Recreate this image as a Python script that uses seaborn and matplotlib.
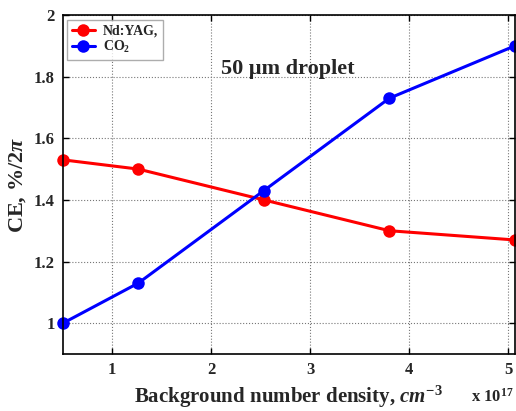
import matplotlib
matplotlib.use("Agg")
import matplotlib.pyplot as plt
import seaborn as sns
import pandas as pd

density = [0.507, 1.267, 2.533, 3.8, 5.067]
nd_yag = [1.53, 1.50, 1.40, 1.30, 1.27]
co2 = [1.00, 1.13, 1.43, 1.73, 1.90]
x_ticks = [1, 2, 3, 4, 5]
y_ticks = [1.0, 1.2, 1.4, 1.6, 1.8, 2.0]
y_tick_labels = ["1", "1.2", "1.4", "1.6", "1.8", "2"]

sns.set_style("white")
plt.rcParams['font.family'] = ['Liberation Serif', 'DejaVu Serif']
plt.rcParams['font.weight'] = 'bold'
plt.rcParams['mathtext.fontset'] = 'custom'
plt.rcParams['mathtext.it'] = 'Liberation Serif:italic:bold'
plt.rcParams['mathtext.rm'] = 'Liberation Serif:bold'
plt.rcParams['mathtext.bf'] = 'Liberation Serif:bold'

df = pd.DataFrame({
    "x": density * 2,
    "y": nd_yag + co2,
    "series": ["Nd:YAG,"] * len(density) + ["CO$_2$"] * len(density),
})

fig = plt.figure(figsize=(5.16, 4.11), dpi=100)
ax = fig.add_axes([0.122, 0.1387, 0.876, 0.8248])

sns.lineplot(data=df, x="x", y="y", hue="series", palette=["#ff0000", "#0000ff"],
             marker="o", markersize=9, markeredgewidth=0, linewidth=2.2, ax=ax,
             clip_on=False, legend=True)

ax.set_xlim(0.507, 5.067)
ax.set_ylim(0.9, 2.0)
ax.set_xticks(x_ticks)
ax.set_xticklabels([str(t) for t in x_ticks], fontsize=12, fontweight='bold')
ax.set_yticks(y_ticks)
ax.set_yticklabels(y_tick_labels, fontsize=12, fontweight='bold')
ax.tick_params(direction='in', length=4, width=1, color='black', pad=6,
               top=True, right=True, bottom=True, left=True)
ax.grid(True, linestyle=':', color='#777777', linewidth=0.8)
for s in ax.spines.values():
    s.set_color('black')
    s.set_linewidth(1.2)

ax.set_xlabel("Background number density, $cm^{-3}$", fontsize=15, fontweight='bold', labelpad=4)
ax.set_ylabel("CE, $\\%/2\\pi$", fontsize=16, fontweight='bold', labelpad=4)

ax.text(0.35, 0.825, "50 μm droplet", transform=ax.transAxes, fontsize=16, fontweight='bold')
fig.text(0.912, 0.022, "x 10$^{17}$", fontsize=12, fontweight='bold')

leg = ax.legend(loc='upper left', bbox_to_anchor=(0.01, 0.985), borderaxespad=0,
                frameon=True, fancybox=False,
                fontsize=10, handlelength=1.6, borderpad=0.35, labelspacing=0.05,
                handletextpad=0.6, title=None)
leg.get_frame().set_edgecolor('#999999')
leg.get_frame().set_linewidth(1.0)
for t in leg.get_texts():
    t.set_fontweight('bold')

fig.savefig("out.png", dpi=100)
